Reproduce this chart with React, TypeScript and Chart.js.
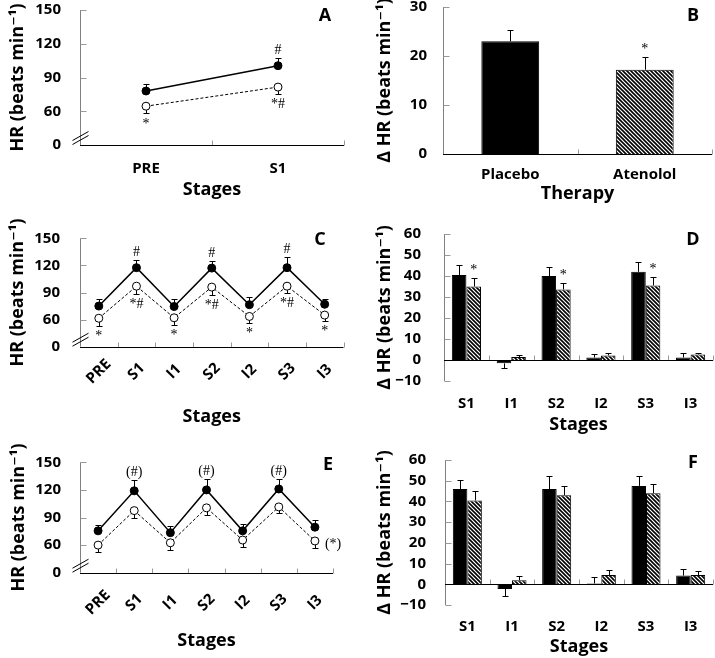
import React, { useEffect, useRef } from 'react';
import { Chart, registerables } from 'chart.js';

Chart.register(...registerables);

// ---------------- data ----------------
const STAGES_A = ['PRE', 'S1'];
const STAGES_SERIES = ['PRE', 'S1', 'I1', 'S2', 'I2', 'S3', 'I3'];
const STAGES_DELTA = ['S1', 'I1', 'S2', 'I2', 'S3', 'I3'];
const THERAPIES = ['Placebo', 'Atenolol'];

const HR_TICK_VALUES = [30, 60, 90, 120, 150];
const HR_TICK_LABELS = ['0', '60', '90', '120', '150'];
const B_TICK_VALUES = [0, 10, 20, 30];
const B_TICK_LABELS = ['0', '10', '20', '30'];
const DELTA_TICK_VALUES = [-10, 0, 10, 20, 30, 40, 50, 60];
const DELTA_TICK_LABELS = ['−10', '0', '10', '20', '30', '40', '50', '60'];

// Panel A
const A_PLACEBO = [78, 100.5];
const A_PLACEBO_SEM = [6, 6.5];
const A_ATENOLOL = [64.5, 81.5];
const A_ATENOLOL_SEM = [6.5, 6.5];
// Panel B
const B_DELTA = [23, 17.2];
const B_SEM = [2.4, 2.6];
// Panel C
const C_PLACEBO = [75, 117.5, 74.5, 117, 76.5, 117.5, 77];
const C_PLACEBO_SEM = [8, 9, 8.5, 8, 8.5, 12, 6];
const C_ATENOLOL = [61.5, 97, 62, 96, 63.5, 97, 65];
const C_ATENOLOL_SEM = [8.5, 8.5, 7.5, 8.5, 7.5, 8, 7];
// Panel D
const D_PLACEBO = [40.5, -1.6, 40, 1.2, 42, 1.2];
const D_PLACEBO_SEM = [4.7, 2.4, 4.1, 1.6, 4.5, 2.3];
const D_ATENOLOL = [35, 1.4, 33.6, 2.2, 35.5, 2.6];
const D_ATENOLOL_SEM = [4.2, 1.1, 2.9, 1.0, 3.9, 0.7];
// Panel E
const E_PLACEBO = [75.5, 119, 73.5, 120, 75.5, 121, 79.5];
const E_PLACEBO_SEM = [6.5, 12, 7.5, 12, 7.5, 11, 7.5];
const E_ATENOLOL = [60, 97.5, 62.5, 100.5, 65.5, 101.5, 64.5];
const E_ATENOLOL_SEM = [7.5, 7.5, 8, 8, 8, 7, 8];
// Panel F
const F_PLACEBO = [46, -2.3, 46, 0.4, 47.5, 4.2];
const F_PLACEBO_SEM = [4.5, 3.3, 6.5, 2.9, 5, 3.1];
const F_ATENOLOL = [40.5, 2, 43, 4.5, 44, 4.5];
const F_ATENOLOL_SEM = [4.5, 2.2, 4.5, 2.2, 4.5, 2];

type Mark = { ds: number; i: number; text: string; pos: 'above' | 'below' | 'right' };

const A_MARKS: Mark[] = [
  { ds: 0, i: 1, text: '#', pos: 'above' },
  { ds: 1, i: 0, text: '*', pos: 'below' },
  { ds: 1, i: 1, text: '*#', pos: 'below' },
];
const B_MARKS: Mark[] = [{ ds: 0, i: 1, text: '*', pos: 'above' }];
const C_MARKS: Mark[] = [
  { ds: 0, i: 1, text: '#', pos: 'above' },
  { ds: 0, i: 3, text: '#', pos: 'above' },
  { ds: 0, i: 5, text: '#', pos: 'above' },
  { ds: 1, i: 1, text: '*#', pos: 'below' },
  { ds: 1, i: 3, text: '*#', pos: 'below' },
  { ds: 1, i: 5, text: '*#', pos: 'below' },
  { ds: 1, i: 0, text: '*', pos: 'below' },
  { ds: 1, i: 2, text: '*', pos: 'below' },
  { ds: 1, i: 4, text: '*', pos: 'below' },
  { ds: 1, i: 6, text: '*', pos: 'below' },
];
const D_MARKS: Mark[] = [
  { ds: 1, i: 0, text: '*', pos: 'above' },
  { ds: 1, i: 2, text: '*', pos: 'above' },
  { ds: 1, i: 4, text: '*', pos: 'above' },
];
const E_MARKS: Mark[] = [
  { ds: 0, i: 1, text: '(#)', pos: 'above' },
  { ds: 0, i: 3, text: '(#)', pos: 'above' },
  { ds: 0, i: 5, text: '(#)', pos: 'above' },
  { ds: 1, i: 6, text: '(*)', pos: 'right' },
];

// ---------------- styling / layout ----------------
const FONT = "'Open Sans', 'DejaVu Sans', sans-serif";
const SERIF = "'Liberation Serif', 'DejaVu Serif', serif";
const AXIS_GRAY = '#808080';
const TICK_GRAY = '#999999';
const HR_TITLE = 'HR (beats min⁻¹)';
const DHR_TITLE = 'Δ HR (beats min⁻¹)';
const TICK_SIZE = 15;
const TITLE_SIZE = 18;

interface Spec {
  type: 'line' | 'bar';
  box: number[];
  area: number[];
  labels: string[];
  series: number[][];
  sems: number[][];
  single?: boolean;
  yMin: number;
  yMax: number;
  yStep: number;
  tickValues: number[];
  tickLabels: string[];
  yTitle: string;
  xTitle: string;
  yTickPad: number;
  yTitlePad: number;
  xTickPad: number;
  xTitlePad: number;
  rotDy?: number;
  letter: string;
  letterPos: number[];
  marks: Mark[];
  catPct?: number;
  barPct?: number;
}

const SPECS: Spec[] = [
  {
    type: 'line', box: [0, 0, 357, 215], area: [80, 10, 344, 145], labels: STAGES_A,
    series: [A_PLACEBO, A_ATENOLOL], sems: [A_PLACEBO_SEM, A_ATENOLOL_SEM],
    yMin: 30, yMax: 150, yStep: 30, tickValues: HR_TICK_VALUES, tickLabels: HR_TICK_LABELS,
    yTitle: HR_TITLE, xTitle: 'Stages', yTickPad: 11, yTitlePad: 7, xTickPad: 7, xTitlePad: 14,
    letter: 'A', letterPos: [325, 16], marks: A_MARKS,
  },
  {
    type: 'bar', box: [360, 0, 355, 215], area: [443, 7, 712, 154], labels: THERAPIES,
    series: [B_DELTA], sems: [B_SEM], single: true,
    yMin: 0, yMax: 30, yStep: 10, tickValues: B_TICK_VALUES, tickLabels: B_TICK_LABELS,
    yTitle: DHR_TITLE, xTitle: 'Therapy', yTickPad: 8, yTitlePad: 14, xTickPad: 3.5, xTitlePad: 10,
    letter: 'B', letterPos: [693, 16], marks: B_MARKS, catPct: 1, barPct: 0.43,
  },
  {
    type: 'line', box: [0, 215, 357, 215], area: [80, 238.3, 343.5, 346.7], labels: STAGES_SERIES,
    series: [C_PLACEBO, C_ATENOLOL], sems: [C_PLACEBO_SEM, C_ATENOLOL_SEM],
    yMin: 30, yMax: 150, yStep: 30, tickValues: HR_TICK_VALUES, tickLabels: HR_TICK_LABELS,
    yTitle: HR_TITLE, xTitle: 'Stages', yTickPad: 12, yTitlePad: 7, xTickPad: 0, xTitlePad: 2.5, rotDy: 25,
    letter: 'C', letterPos: [320, 240], marks: C_MARKS,
  },
  {
    type: 'bar', box: [360, 215, 355, 225], area: [444, 234, 713, 381], labels: STAGES_DELTA,
    series: [D_PLACEBO, D_ATENOLOL], sems: [D_PLACEBO_SEM, D_ATENOLOL_SEM],
    yMin: -10, yMax: 60, yStep: 10, tickValues: DELTA_TICK_VALUES, tickLabels: DELTA_TICK_LABELS,
    yTitle: DHR_TITLE, xTitle: 'Stages', yTickPad: 15, yTitlePad: 14, xTickPad: 5.5, xTitlePad: 4,
    letter: 'D', letterPos: [693, 240], marks: D_MARKS, catPct: 0.65, barPct: 1,
  },
  {
    type: 'line', box: [0, 430, 357, 228], area: [80, 462.3, 333, 572.7], labels: STAGES_SERIES,
    series: [E_PLACEBO, E_ATENOLOL], sems: [E_PLACEBO_SEM, E_ATENOLOL_SEM],
    yMin: 30, yMax: 150, yStep: 30, tickValues: HR_TICK_VALUES, tickLabels: HR_TICK_LABELS,
    yTitle: HR_TITLE, xTitle: 'Stages', yTickPad: 11, yTitlePad: 8.5, xTickPad: 0, xTitlePad: 6.5, rotDy: 30,
    letter: 'E', letterPos: [328, 465], marks: E_MARKS,
  },
  {
    type: 'bar', box: [360, 430, 355, 228], area: [445, 460, 713, 605], labels: STAGES_DELTA,
    series: [F_PLACEBO, F_ATENOLOL], sems: [F_PLACEBO_SEM, F_ATENOLOL_SEM],
    yMin: -10, yMax: 60, yStep: 10, tickValues: DELTA_TICK_VALUES, tickLabels: DELTA_TICK_LABELS,
    yTitle: DHR_TITLE, xTitle: 'Stages', yTickPad: 11, yTitlePad: 14, xTickPad: 5, xTitlePad: 0.5,
    letter: 'F', letterPos: [693, 463], marks: [], catPct: 0.65, barPct: 1,
  },
];

function makeHatch(): CanvasPattern | string {
  const c = document.createElement('canvas');
  const s = 4;
  c.width = s;
  c.height = s;
  const g = c.getContext('2d');
  if (!g) return '#888';
  g.fillStyle = '#fff';
  g.fillRect(0, 0, s, s);
  g.strokeStyle = '#000';
  g.lineWidth = 1.6;
  g.beginPath();
  g.moveTo(-1, -1);
  g.lineTo(s + 1, s + 1);
  g.moveTo(-1, s - 1);
  g.lineTo(1, s + 1);
  g.moveTo(s - 1, -1);
  g.lineTo(s + 1, 1);
  g.stroke();
  return g.createPattern(c, 'repeat') || '#888';
}

function errEnd(spec: Spec, ds: number, i: number): number {
  const v = spec.series[ds][i];
  const s = spec.sems[ds][i];
  if (spec.type === 'line') return ds === 0 ? v + s : v - s;
  return v < 0 ? v - s : v + s;
}

function line(ctx: CanvasRenderingContext2D, x1: number, y1: number, x2: number, y2: number) {
  ctx.beginPath();
  ctx.moveTo(x1, y1);
  ctx.lineTo(x2, y2);
  ctx.stroke();
}

function drawErrors(chart: any, spec: Spec) {
  const ctx: CanvasRenderingContext2D = chart.ctx;
  const y = chart.scales.y;
  ctx.save();
  ctx.strokeStyle = '#000';
  ctx.lineWidth = 1;
  spec.series.forEach((_, ds) => {
    const meta = chart.getDatasetMeta(ds);
    meta.data.forEach((el: any, i: number) => {
      const px = Math.round(el.x) + 0.5;
      const y1 = Math.round(y.getPixelForValue(errEnd(spec, ds, i))) + 0.5;
      line(ctx, px, el.y, px, y1);
      line(ctx, px - 3, y1, px + 3, y1);
    });
  });
  ctx.restore();
}

function decorPlugin(spec: Spec) {
  const [bx, by] = spec.box;
  return {
    id: 'decor' + spec.letter,
    beforeDatasetsDraw(chart: any) {
      const ctx: CanvasRenderingContext2D = chart.ctx;
      const a = chart.chartArea;
      const x = chart.scales.x;
      const y = chart.scales.y;
      ctx.save();
      ctx.lineWidth = 1;
      const ax = Math.round(a.left) + 0.5;
      ctx.strokeStyle = AXIS_GRAY;
      line(ctx, ax, a.top, ax, a.bottom);
      ctx.strokeStyle = TICK_GRAY;
      for (const t of y.ticks) {
        if (spec.type === 'line' && t.value === spec.yMin) continue;
        const py = Math.round(y.getPixelForValue(t.value)) + 0.5;
        line(ctx, ax, py, ax + 6, py);
      }
      const base = Math.round(spec.type === 'bar' ? y.getPixelForValue(0) : a.bottom) + 0.5;
      for (let i = 0; i < spec.labels.length; i++) {
        const px = Math.round(x.getPixelForValue(i + 0.5)) + 0.5;
        line(ctx, px, base, px, base - 5);
      }
      ctx.strokeStyle = '#000';
      line(ctx, ax - 0.5, base, a.right, base);
      if (spec.type === 'line') {
        const cy = a.bottom - 7;
        for (const off of [-2, 2]) line(ctx, ax - 8, cy + off + 4.5, ax + 8, cy + off - 4.5);
        drawErrors(chart, spec);
      }
      ctx.restore();
    },
    afterDatasetsDraw(chart: any) {
      const ctx: CanvasRenderingContext2D = chart.ctx;
      const a = chart.chartArea;
      const x = chart.scales.x;
      const y = chart.scales.y;
      if (spec.type === 'bar') drawErrors(chart, spec);
      ctx.save();
      ctx.fillStyle = '#000';
      // significance marks
      ctx.font = `14px ${SERIF}`;
      ctx.textBaseline = 'alphabetic';
      for (const m of spec.marks) {
        const el = chart.getDatasetMeta(m.ds).data[m.i];
        if (m.pos === 'right') {
          ctx.textAlign = 'left';
          ctx.fillText(m.text, el.x + 10, el.y + 7);
          continue;
        }
        const ey = y.getPixelForValue(errEnd(spec, m.ds, m.i));
        ctx.textAlign = 'center';
        ctx.fillText(m.text, el.x, m.pos === 'above' ? ey - 4 : ey + 14);
      }
      // rotated category labels, centred on category
      if (spec.rotDy !== undefined) {
        ctx.font = `bold ${TICK_SIZE}px ${FONT}`;
        ctx.textAlign = 'center';
        ctx.textBaseline = 'middle';
        spec.labels.forEach((lab, i) => {
          const px = x.getPixelForValue(i);
          ctx.save();
          ctx.translate(px, a.bottom + (spec.rotDy as number));
          ctx.rotate(-Math.PI / 4);
          ctx.fillText(lab, 0, 0);
          ctx.restore();
        });
      }
      // panel letter
      ctx.font = `bold 18px ${FONT}`;
      ctx.textAlign = 'center';
      ctx.textBaseline = 'middle';
      ctx.fillText(spec.letter, spec.letterPos[0] - bx, spec.letterPos[1] - by);
      ctx.restore();
    },
  };
}

function buildConfig(spec: Spec): any {
  const [bx, by, bw, bh] = spec.box;
  const [l, t, r, b] = spec.area;
  const yW = l - bx;
  const padTop = t - by;
  const padRight = bx + bw - r;
  const xH = by + bh - b;
  const hatch = makeHatch();
  let datasets: any[];
  if (spec.type === 'line') {
    datasets = [
      {
        data: spec.series[0], borderColor: '#000', borderWidth: 1.5, pointRadius: 4,
        pointBackgroundColor: '#000', pointBorderColor: '#000', pointBorderWidth: 1, tension: 0, fill: false,
      },
      {
        data: spec.series[1], borderColor: '#000', borderWidth: 1, borderDash: [3, 2], pointRadius: 4,
        pointBackgroundColor: '#fff', pointBorderColor: '#000', pointBorderWidth: 1, tension: 0, fill: false,
      },
    ];
  } else if (spec.single) {
    datasets = [
      {
        data: spec.series[0], backgroundColor: ['#000', hatch], borderColor: '#000', borderWidth: 1,
        categoryPercentage: spec.catPct, barPercentage: spec.barPct,
      },
    ];
  } else {
    datasets = [
      {
        data: spec.series[0], backgroundColor: '#000', borderColor: '#000', borderWidth: 1,
        categoryPercentage: spec.catPct, barPercentage: spec.barPct,
      },
      {
        data: spec.series[1], backgroundColor: hatch, borderColor: '#000', borderWidth: 1,
        categoryPercentage: spec.catPct, barPercentage: spec.barPct,
      },
    ];
  }
  const tickFont = { family: FONT, size: TICK_SIZE, weight: 'bold' };
  const titleFont = { family: FONT, size: TITLE_SIZE, weight: 'bold' };
  return {
    type: spec.type,
    data: { labels: spec.labels, datasets },
    options: {
      responsive: false,
      animation: false,
      devicePixelRatio: 1,
      layout: { padding: { left: 0, top: padTop, right: padRight, bottom: 0 } },
      plugins: { legend: { display: false }, tooltip: { enabled: false } },
      scales: {
        x: {
          type: 'category',
          offset: true,
          grid: { display: false },
          border: { display: false },
          ticks: {
            display: spec.rotDy === undefined,
            color: '#000',
            font: tickFont,
            padding: spec.xTickPad,
            maxRotation: 0,
            minRotation: 0,
            autoSkip: false,
          },
          title: {
            display: true, text: spec.xTitle, color: '#000', font: titleFont,
            padding: { top: 0, bottom: spec.xTitlePad },
          },
          afterFit: (s: any) => {
            s.height = xH;
            s.paddingLeft = 0;
            s.paddingRight = 0;
          },
        },
        y: {
          type: 'linear',
          min: spec.yMin,
          max: spec.yMax,
          grid: { display: false },
          border: { display: false },
          ticks: {
            stepSize: spec.yStep,
            autoSkip: false,
            color: '#000',
            font: tickFont,
            padding: spec.yTickPad,
            callback: (v: number) => {
              const k = spec.tickValues.indexOf(v);
              return k >= 0 ? spec.tickLabels[k] : '';
            },
          },
          title: {
            display: true, text: spec.yTitle, color: '#000', font: titleFont,
            padding: { top: spec.yTitlePad, bottom: 0 },
          },
          afterFit: (s: any) => {
            s.width = yW;
            s.paddingTop = 0;
            s.paddingBottom = 0;
          },
        },
      },
    },
    plugins: [decorPlugin(spec)],
  };
}

function PanelChart({ spec }: { spec: Spec }) {
  const ref = useRef<HTMLCanvasElement>(null);
  useEffect(() => {
    if (!ref.current) return;
    const chart = new Chart(ref.current, buildConfig(spec));
    return () => chart.destroy();
  }, [spec]);
  const [bx, by, bw, bh] = spec.box;
  return (
    <canvas
      ref={ref}
      width={bw}
      height={bh}
      style={{ position: 'absolute', left: bx, top: by, width: bw, height: bh }}
    />
  );
}

export default function App() {
  return (
    <div style={{ position: 'absolute', left: 0, top: 0, width: 715, height: 658, background: '#fff' }}>
      {SPECS.map((s) => (
        <PanelChart key={s.letter} spec={s} />
      ))}
    </div>
  );
}
